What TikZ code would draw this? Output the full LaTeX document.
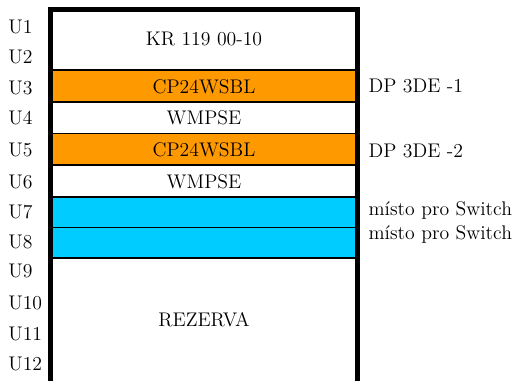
\documentclass[tikz,border=0pt]{standalone}
\usepackage{fontspec}
\definecolor{rackorange}{RGB}{255,153,0}
\definecolor{rackcyan}{RGB}{0,204,255}
\begin{document}
\begin{tikzpicture}[x=0.75pt,y=-0.75pt,
  font=\fontsize{14.8}{18}\selectfont,
  ulabel/.style={anchor=base west, inner sep=0pt},
  ctext/.style={anchor=base, inner sep=0pt},
  sepline/.style={line width=1.2pt},
  rackframe/.style={line width=3.75pt, line join=miter}]
\useasboundingbox (0,0) rectangle (518,380);
% fills
\fill[rackorange] (52.7,70) rectangle (355,102);
\fill[rackorange] (52.7,133.5) rectangle (355,165);
\fill[rackcyan] (52.7,197) rectangle (355,258);
% separators
\draw[sepline] (52.7,70) -- (355,70);
\draw[sepline] (52.7,102) -- (355,102);
\draw[sepline] (52.7,133.5) -- (355,133.5);
\draw[sepline] (52.7,165) -- (355,165);
\draw[sepline] (52.7,197) -- (355,197);
\draw[sepline] (52.7,227.5) -- (355,227.5);
\draw[sepline] (52.7,258) -- (355,258);
% frame
\draw[rackframe] (50,390) -- (50,9.2) -- (357.5,9.2) -- (357.5,390);
% unit labels
\node[ulabel] (u1) at (8,33.3) {U1};
\node[ulabel] (u2) at (8,63.3) {U2};
\node[ulabel] (u3) at (8,94) {U3};
\node[ulabel] (u4) at (8,124.5) {U4};
\node[ulabel] (u5) at (8,156.7) {U5};
\node[ulabel] (u6) at (8,188.3) {U6};
\node[ulabel] (u7) at (8,218.3) {U7};
\node[ulabel] (u8) at (8,248.3) {U8};
\node[ulabel] (u9) at (8,277) {U9};
\node[ulabel] (u10) at (8,309.3) {U10};
\node[ulabel] (u11) at (8,340) {U11};
\node[ulabel] (u12) at (8,370) {U12};
% device texts
\node[ctext] (kr) at (204,45) {KR 119 00-10};
\node[ctext] (cp1) at (204,93.3) {CP24WSBL};
\node[ctext] (wm1) at (204,124.5) {WMPSE};
\node[ctext] (cp2) at (204,156.7) {CP24WSBL};
\node[ctext] (wm2) at (204,188.3) {WMPSE};
\node[ctext] (rez) at (204,326.7) {REZERVA};
% right notes
\node[ulabel] (dp1) at (368.3,92.7) {DP 3DE -1};
\node[ulabel] (dp2) at (368.3,157.3) {DP 3DE -2};
\node[ulabel] (sw1) at (368.3,215) {místo pro Switch};
\node[ulabel] (sw2) at (368.3,239.5) {místo pro Switch};
\end{tikzpicture}
\end{document}
